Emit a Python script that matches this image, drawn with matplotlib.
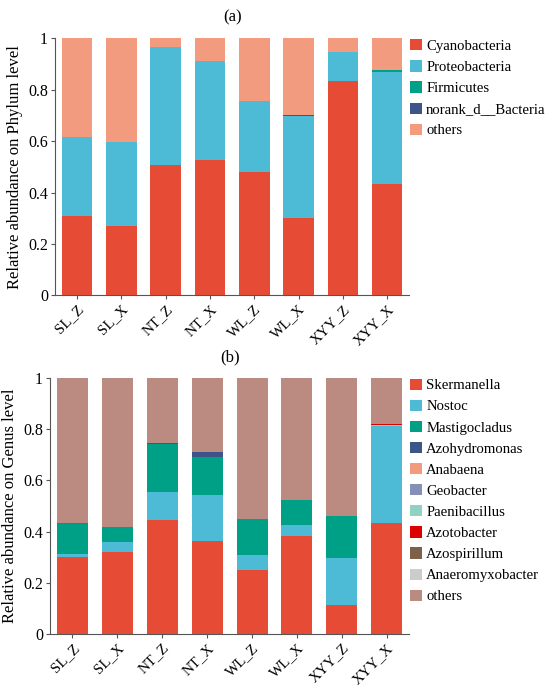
import numpy as np
import matplotlib
matplotlib.use("Agg")
import matplotlib.pyplot as plt
from matplotlib.patches import Patch

plt.rcParams['font.family'] = ['Liberation Serif', 'DejaVu Serif']

samples = ['SL_Z', 'SL_X', 'NT_Z', 'NT_X', 'WL_Z', 'WL_X', 'XYY_Z', 'XYY_X']

# phylum level
phylum_names = ['Cyanobacteria', 'Proteobacteria', 'Firmicutes', 'norank_d__Bacteria', 'others']
cyanobacteria = [0.308, 0.269, 0.506, 0.528, 0.482, 0.300, 0.836, 0.432]
proteobacteria = [0.309, 0.327, 0.461, 0.384, 0.274, 0.400, 0.110, 0.436]
firmicutes = [0.0002, 0.0002, 0.0002, 0.0002, 0.0002, 0.0002, 0.002, 0.009]
norank_bacteria = [0.0001, 0.0001, 0.0001, 0.0001, 0.0001, 0.0001, 0.0001, 0.001]
phylum_colors = ['#E64B35', '#4DBBD5', '#00A087', '#3C5488', '#F39B7F']

# genus level
genus_names = ['Skermanella', 'Nostoc', 'Mastigocladus', 'Azohydromonas', 'Anabaena',
               'Geobacter', 'Paenibacillus', 'Azotobacter', 'Azospirillum',
               'Anaeromyxobacter', 'others']
skermanella = [0.299, 0.319, 0.447, 0.363, 0.251, 0.383, 0.112, 0.432]
nostoc = [0.013, 0.042, 0.108, 0.179, 0.056, 0.043, 0.185, 0.379]
mastigocladus = [0.119, 0.056, 0.185, 0.151, 0.141, 0.097, 0.164, 0.001]
azohydromonas = [0.0002, 0.0002, 0.005, 0.017, 0.0002, 0.0002, 0.0002, 0.0002]
anabaena = [0.0001, 0.0001, 0.0001, 0.0001, 0.0001, 0.0001, 0.0001, 0.0002]
geobacter = [0.0001, 0.0001, 0.0001, 0.0001, 0.0001, 0.0001, 0.0001, 0.0002]
paenibacillus = [0.0001, 0.0001, 0.0001, 0.0001, 0.0001, 0.0001, 0.0001, 0.003]
azotobacter = [0.0001, 0.0001, 0.0001, 0.0001, 0.0001, 0.0001, 0.0001, 0.005]
azospirillum = [0.0001, 0.0001, 0.0001, 0.0001, 0.0001, 0.0001, 0.0001, 0.0002]
anaeromyxobacter = [0.0001, 0.0001, 0.0001, 0.0001, 0.0001, 0.0001, 0.0001, 0.0002]
genus_colors = ['#E64B35', '#4DBBD5', '#00A087', '#3C5488', '#F39B7F', '#8491B4',
                '#91D1C2', '#DC0000', '#7E6148', '#CCCCCC', '#BB8A80']


def stacked(ax, layers, colors, names, ylabel, title):
    x = np.arange(len(samples))
    bottom = np.zeros(len(samples))
    for vals, c in zip(layers, colors):
        ax.bar(x, vals, 0.69, bottom=bottom, color=c, edgecolor='none')
        bottom += np.array(vals)
    ax.set_xlim(-0.5, len(samples) - 0.5)
    ax.set_ylim(0, 1)
    ax.set_yticks([0, 0.2, 0.4, 0.6, 0.8, 1])
    ax.set_yticklabels(['0', '0.2', '0.4', '0.6', '0.8', '1'], fontsize=11.5)
    ax.set_xticks(x)
    ax.set_xticklabels(samples, rotation=45, ha='right', rotation_mode='anchor', fontsize=10.8)
    ax.set_ylabel(ylabel, fontsize=12, labelpad=4)
    ax.set_title(title, fontsize=12, pad=12)
    for s in ['top', 'right']:
        ax.spines[s].set_visible(False)
    for s in ['left', 'bottom']:
        ax.spines[s].set_color('#555555')
    ax.tick_params(length=3, color='#555555', pad=2)
    handles = [Patch(facecolor=c, edgecolor='none') for c in colors]
    ax.legend(handles, names, loc='upper left', bbox_to_anchor=(1.0, 1.0),
              frameon=False, fontsize=10.6, handlelength=0.8, handleheight=0.8,
              handletextpad=0.3, labelspacing=0.5, borderaxespad=0, borderpad=0.05)


fig = plt.figure(figsize=(5.5, 6.87), dpi=100)
ax1 = fig.add_axes([0.100, 0.570, 0.644, 0.374])
ax2 = fig.add_axes([0.091, 0.077, 0.653, 0.373])

others_p = 1 - np.array(cyanobacteria) - np.array(proteobacteria) - np.array(firmicutes) - np.array(norank_bacteria)
stacked(ax1, [cyanobacteria, proteobacteria, firmicutes, norank_bacteria, others_p],
        phylum_colors, phylum_names, 'Relative abundance on Phylum level', '(a)')

genus_layers = [skermanella, nostoc, mastigocladus, azohydromonas, anabaena, geobacter,
                paenibacillus, azotobacter, azospirillum, anaeromyxobacter]
others_g = 1 - np.sum(np.array(genus_layers), axis=0)
stacked(ax2, genus_layers + [others_g], genus_colors, genus_names,
        'Relative abundance on Genus level', '(b)')

fig.savefig('out.png', dpi=100)
